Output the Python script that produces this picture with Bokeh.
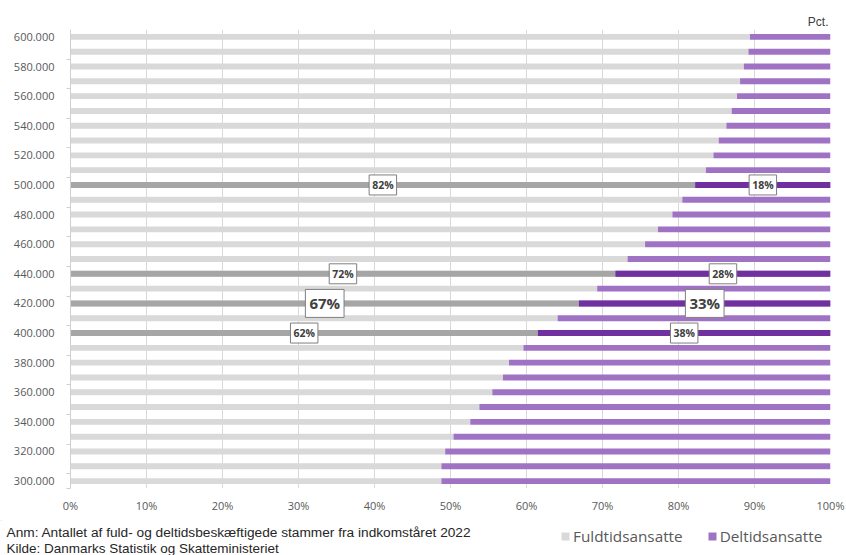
from bokeh.plotting import figure
from bokeh.layouts import column
from bokeh.models import (ColumnDataSource, Range1d, FixedTicker, Label, Legend, LegendItem)
from bokeh.embed import file_html
from bokeh.resources import INLINE

# ---------------- data ----------------
income_k = [300, 310, 320, 330, 340, 350, 360, 370, 380, 390, 400, 410, 420, 430, 440,
            450, 460, 470, 480, 490, 500, 510, 520, 530, 540, 550, 560, 570, 580, 590, 600]
fuldtid = [48.8, 48.8, 49.3, 50.4, 52.6, 53.8, 55.5, 56.9, 57.7, 59.6, 61.5, 64.1, 66.9, 69.3, 71.7,
           73.3, 75.6, 77.3, 79.2, 80.5, 82.2, 83.6, 84.6, 85.3, 86.3, 87.0, 87.7, 88.1, 88.6, 89.2, 89.4]
deltid = [51.2, 51.2, 50.7, 49.6, 47.4, 46.2, 44.5, 43.1, 42.3, 40.4, 38.5, 35.9, 33.1, 30.7, 28.3,
          26.7, 24.4, 22.7, 20.8, 19.5, 17.8, 16.4, 15.4, 14.7, 13.7, 13.0, 12.3, 11.9, 11.4, 10.8, 10.6]

highlight_income = [400, 420, 440, 500]
highlight_fuld_label = ["62%", "67%", "72%", "82%"]
highlight_del_label = ["38%", "33%", "28%", "18%"]
highlight_big = [False, True, False, False]

y_ticks = [300, 320, 340, 360, 380, 400, 420, 440, 460, 480, 500, 520, 540, 560, 580, 600]
y_tick_labels = ["300.000", "320.000", "340.000", "360.000", "380.000", "400.000", "420.000",
                 "440.000", "460.000", "480.000", "500.000", "520.000", "540.000", "560.000",
                 "580.000", "600.000"]
x_ticks = [0, 10, 20, 30, 40, 50, 60, 70, 80, 90, 100]
x_tick_labels = ["0%", "10%", "20%", "30%", "40%", "50%", "60%", "70%", "80%", "90%", "100%"]

series_names = ["Fuldtidsansatte", "Deltidsansatte"]
note_text = "Anm: Antallet af fuld- og deltidsbeskæftigede stammer fra indkomståret 2022"
source_text = "Kilde: Danmarks Statistik og Skatteministeriet"
unit_text = "Pct."

# ---------------- colours ----------------
C_GRAY = "#d9d9d9"
C_GRAY_DARK = "#a6a6a6"
C_PURPLE = "#a072c4"
C_PURPLE_DARK = "#7030a0"
C_TEXT = "#595959"

# ---------------- sources ----------------
total = [f + d for f, d in zip(fuldtid, deltid)]
src = ColumnDataSource(dict(y=income_k, fuld=fuldtid, total=total))
hi_idx = [income_k.index(v) for v in highlight_income]
src_hi = ColumnDataSource(dict(y=[income_k[i] for i in hi_idx],
                               fuld=[fuldtid[i] for i in hi_idx],
                               total=[total[i] for i in hi_idx]))

p = figure(width=846, height=520, output_backend="svg", toolbar_location=None,
           x_range=Range1d(0, 100), y_range=Range1d(295, 605),
           min_border_left=70, min_border_right=16, min_border_top=29, min_border_bottom=32)
p.outline_line_color = None
p.background_fill_color = "white"
p.border_fill_color = "white"

# unit text as a right-aligned title above the frame
p.title.text = unit_text
p.title.align = "right"
p.title.text_font = "Liberation Sans"
p.title.text_font_size = "12px"
p.title.text_font_style = "normal"
p.title.text_color = "#404040"
p.title.standoff = 2
p.title.offset = 2

bh = 4.0
p.hbar(y="y", left=0, right="fuld", height=bh, source=src, fill_color=C_GRAY, line_color=None)
p.hbar(y="y", left="fuld", right="total", height=bh, source=src, fill_color=C_PURPLE, line_color=None)
p.hbar(y="y", left=0, right="fuld", height=bh, source=src_hi, fill_color=C_GRAY_DARK, line_color=None)
p.hbar(y="y", left="fuld", right="total", height=bh, source=src_hi, fill_color=C_PURPLE_DARK, line_color=None)

# axes
p.xaxis.ticker = FixedTicker(ticks=x_ticks)
p.xaxis.major_label_overrides = {t: l for t, l in zip(x_ticks, x_tick_labels)}
p.xaxis.axis_line_color = None
p.xaxis.major_tick_line_color = None
p.xaxis.minor_tick_line_color = None
p.xaxis.major_tick_out = 0
p.xaxis.major_label_text_font = "Open Sans"
p.xaxis.major_label_text_font_size = "11px"
p.xaxis.major_label_text_color = C_TEXT
p.xaxis.major_label_standoff = 9

minor = [295] + [t + 5 for t in y_ticks[:-1]]
p.yaxis.ticker = FixedTicker(ticks=y_ticks, minor_ticks=minor)
p.yaxis.major_label_overrides = {t: l for t, l in zip(y_ticks, y_tick_labels)}
p.yaxis.axis_line_color = "#d0d0d0"
p.yaxis.major_tick_line_color = None
p.yaxis.major_tick_out = 0
p.yaxis.major_tick_in = 0
p.yaxis.minor_tick_line_color = "#d0d0d0"
p.yaxis.minor_tick_out = 4
p.yaxis.minor_tick_in = 0
p.yaxis.major_label_text_font = "Open Sans"
p.yaxis.major_label_text_font_size = "11px"
p.yaxis.major_label_text_color = C_TEXT
p.yaxis.major_label_standoff = 12

p.xgrid.ticker = FixedTicker(ticks=x_ticks)
p.xgrid.grid_line_color = "#d9d9d9"
p.ygrid.grid_line_color = None

# value labels in boxes
for i, k in enumerate(hi_idx):
    big = highlight_big[i]
    fs = "15px" if big else "10.5px"
    pad = 4 if big else 3
    for xv, txt in ((fuldtid[k] / 2.0, highlight_fuld_label[i]),
                    (fuldtid[k] + deltid[k] / 2.0, highlight_del_label[i])):
        p.add_layout(Label(x=xv, y=income_k[k], text=txt, text_align="center",
                           text_baseline="middle", text_font="Open Sans",
                           text_font_style="bold", text_font_size=fs, text_color="#404040",
                           background_fill_color="white", border_line_color="#7f7f7f",
                           border_line_width=1, padding=pad))

# ---------------- footer: notes and legend ----------------
FH = 35
f = figure(width=846, height=FH, output_backend="svg", toolbar_location=None,
           x_range=Range1d(0, 846), y_range=Range1d(FH, 0),
           x_axis_type=None, y_axis_type=None,
           min_border_left=0, min_border_right=0, min_border_top=0, min_border_bottom=0)
f.outline_line_color = None
f.background_fill_color = "white"
f.border_fill_color = "white"
f.frame_align = False
p.frame_align = False

f.add_layout(Label(x=6, y=12, text=note_text, text_align="left", text_baseline="middle",
                   text_font="Liberation Sans", text_font_size="13.7px", text_color="#262626"))
f.add_layout(Label(x=6, y=28, text=source_text, text_align="left", text_baseline="middle",
                   text_font="Liberation Sans", text_font_size="13.5px", text_color="#262626"))

# legend keys: renderers kept outside the visible footer range
lg_full = f.hbar(y=[-100], left=[0], right=[1], height=1, fill_color=C_GRAY, line_color=None)
lg_del = f.hbar(y=[-100], left=[0], right=[1], height=1, fill_color=C_PURPLE, line_color=None)
legend = Legend(items=[LegendItem(label=series_names[0], renderers=[lg_full]),
                       LegendItem(label=series_names[1], renderers=[lg_del])],
                location=(560, 9), orientation="horizontal",
                glyph_width=10, glyph_height=10, label_standoff=3, spacing=24,
                label_height=16, padding=0, margin=0, border_line_color=None,
                background_fill_alpha=0,
                label_text_font="Open Sans", label_text_font_size="15.3px",
                label_text_color=C_TEXT)
f.add_layout(legend, "center")

layout = column(p, f, spacing=0)
open("out.html", "w").write(file_html(layout, INLINE))
